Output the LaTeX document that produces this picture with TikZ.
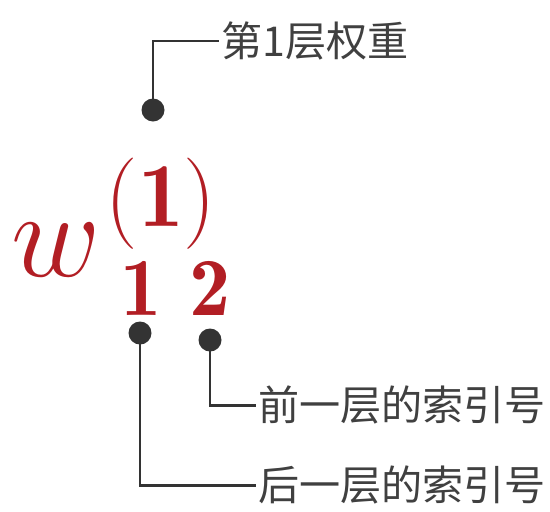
\RequirePackage{fix-cm}
\documentclass[tikz,border=0pt]{standalone}
\usepackage{amsmath}
\usepackage{fontspec}
\newfontfamily\cjk{Noto Sans CJK SC}
\usetikzlibrary{positioning}
\definecolor{WeightRed}{RGB}{178, 30, 36}
\definecolor{LineGray}{RGB}{51, 51, 51}
\definecolor{TextGray}{RGB}{64, 64, 64}
\newcommand{\idx}[1]{\ensuremath{\mathbf{#1}}}

\begin{document}
\begin{tikzpicture}[x=0.02cm, y=-0.02cm,
    dot/.style={circle, fill=LineGray, inner sep=0pt, minimum size=0.46cm},
    lead/.style={draw=LineGray, line width=1.7pt},
    lbl/.style={anchor=west, inner sep=1pt, text=TextGray, font=\cjk\fontsize{23.4}{25}\selectfont},
    sym/.style={inner sep=0pt, anchor=base, text=WeightRed}]
    \useasboundingbox (0,0) rectangle (550,511);

    % The weight symbol
    \node[sym, font=\fontsize{70}{70}\selectfont] (w) at (56,276) {$w$};
    \node[sym, font=\fontsize{52}{52}\selectfont] (sup) at (161,226) {\idx{(1)}};
    \node[sym, font=\fontsize{47}{47}\selectfont] (subj) at (141,315) {\idx{1}};
    \node[sym, font=\fontsize{47}{47}\selectfont] (subk) at (210,315) {\idx{2}};

    % Markers
    \node[dot] (dtop) at (153,110) {};
    \node[dot] (dj) at (140,333) {};
    \node[dot] (dk) at (210,340) {};

    % Labels
    \node[lbl] (ltop) at (219,41) {第1层权重};
    \node[lbl] (lprev) at (256,405) {前一层的索引号};
    \node[lbl] (lnext) at (256,485) {后一层的索引号};

    % Leaders
    \draw[lead] (dtop.center) |- (ltop.west);
    \draw[lead] (dk.center) |- (lprev.west);
    \draw[lead] (dj.center) |- (lnext.west);
\end{tikzpicture}
\end{document}
